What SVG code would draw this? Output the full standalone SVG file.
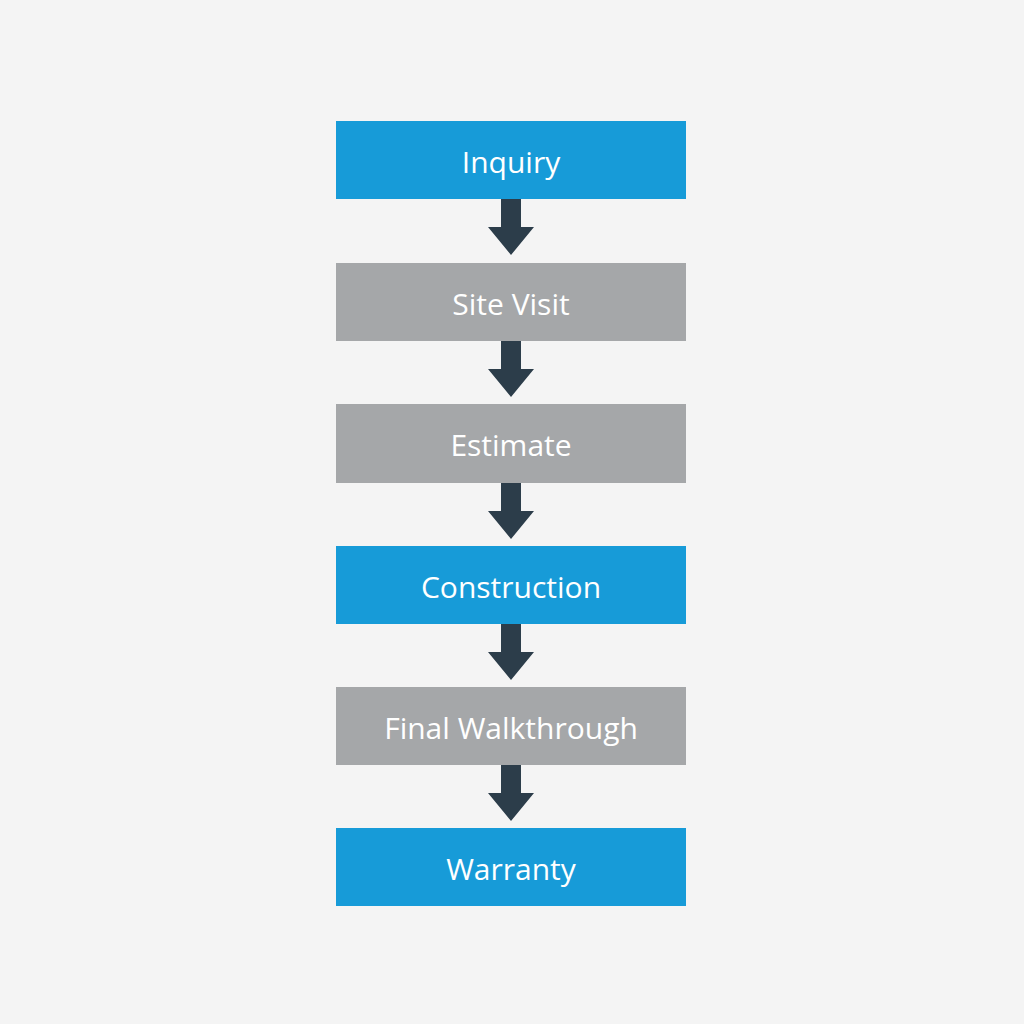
<svg xmlns="http://www.w3.org/2000/svg" width="1024" height="1024" viewBox="0 0 1024 1024">
<style>
.b{fill:#179bd8}.g{fill:#a5a7a9}
text{font-family:"Open Sans","Noto Sans",sans-serif;font-size:30px;fill:#fff;text-anchor:middle;dominant-baseline:central}
.a{fill:#2c3d4a}
</style>
<defs><path id="arr" class="a" d="M-10,0 H10 V28 H23 L0,56 L-23,28 H-10 Z"/></defs>
<rect width="1024" height="1024" fill="#f4f4f4"/>
<g id="n1"><rect class="b" x="336" y="121" width="350" height="78"/><text x="511" y="161">Inquiry</text></g>
<g id="n2"><rect class="g" x="336" y="263" width="350" height="78"/><text x="511" y="303">Site Visit</text></g>
<g id="n3"><rect class="g" x="336" y="404" width="350" height="79"/><text x="511" y="444">Estimate</text></g>
<g id="n4"><rect class="b" x="336" y="546" width="350" height="78"/><text x="511" y="586">Construction</text></g>
<g id="n5"><rect class="g" x="336" y="687" width="350" height="78"/><text x="511" y="727">Final Walkthrough</text></g>
<g id="n6"><rect class="b" x="336" y="828" width="350" height="78"/><text x="511" y="868">Warranty</text></g>
<g id="connectors">
<use href="#arr" x="511" y="199"/>
<use href="#arr" x="511" y="341"/>
<use href="#arr" x="511" y="483"/>
<use href="#arr" x="511" y="624"/>
<use href="#arr" x="511" y="765"/>
</g>
</svg>
